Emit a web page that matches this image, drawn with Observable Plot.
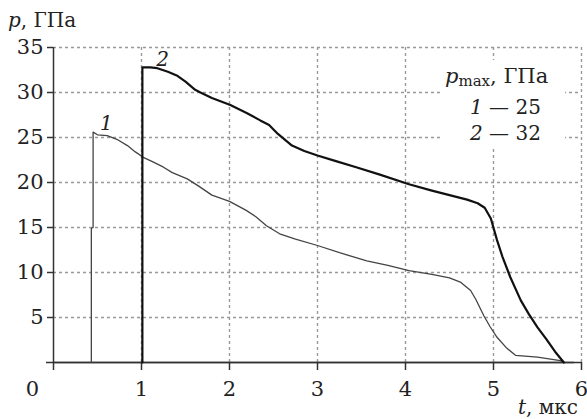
<!DOCTYPE html>
<html><head><meta charset="utf-8">
<script src="https://cdn.jsdelivr.net/npm/d3@7"></script>
<script src="https://cdn.jsdelivr.net/npm/@observablehq/plot@0.6"></script>
<style>
body{margin:0;background:#fff;}
#wrap{position:relative;width:587px;height:419px;font-family:"DejaVu Serif",serif;color:#222;}
.lab{position:absolute;font-size:20px;white-space:nowrap;line-height:1;color:#222;}
#legend{position:absolute;left:442px;top:60px;width:123px;height:87px;background:#fff;}
i{font-style:italic;}
sub{font-size:15px;vertical-align:-3px;}
</style></head><body><div id="wrap"></div>
<script>
// Curve 1 (p_max = 25 GPa)
const t1 = [0.43,0.43,0.45,0.45,0.5,0.61,0.72,0.84,0.93,1.02,1.13,1.25,1.35,1.52,1.65,1.8,2.0,2.19,2.3,2.42,2.57,2.75,3.0,3.25,3.56,3.8,4.04,4.3,4.5,4.63,4.74,4.8,4.89,4.96,5.04,5.15,5.25,5.5,5.76,5.8];
const p1 = [0,14.9,15.0,25.6,25.3,25.2,24.8,24.1,23.4,22.8,22.3,21.7,21.1,20.4,19.6,18.6,17.9,16.9,16.2,15.2,14.3,13.7,13.0,12.2,11.3,10.8,10.2,9.8,9.4,8.9,8.0,7.0,5.2,4.0,2.8,1.6,0.8,0.6,0.2,0];
// Curve 2 (p_max = 32 GPa)
const t2 = [1.01,1.01,1.1,1.18,1.3,1.4,1.5,1.61,1.67,1.8,2.01,2.2,2.35,2.45,2.55,2.71,2.85,3.0,3.2,3.44,3.7,4.04,4.3,4.5,4.7,4.82,4.9,4.97,5.04,5.1,5.19,5.31,5.4,5.5,5.6,5.7,5.8];
const p2 = [0,32.8,32.8,32.7,32.3,31.9,31.2,30.3,30.0,29.4,28.6,27.7,26.9,26.4,25.4,24.1,23.5,23.0,22.4,21.7,20.9,19.8,19.1,18.6,18.1,17.7,17.2,16.0,13.6,11.8,9.5,6.9,5.4,3.9,2.6,1.2,0];
const seriesNames = ["1","2"];
const pmax = [25,32];
const labelT = [0.6,1.24];
const labelP = [26.5,33.7];
const xTicks = [0,1,2,3,4,5,6];
const yTicks = [5,10,15,20,25,30,35];

const FONT = '"DejaVu Serif",serif';
const rows1 = t1.map((t,i)=>({t, p:p1[i]}));
const rows2 = t2.map((t,i)=>({t, p:p2[i]}));
const labels = seriesNames.map((s,i)=>({s, t:labelT[i], p:labelP[i]}));
const grid = {stroke:"#999", strokeOpacity:1, strokeWidth:1.4, strokeDasharray:"3,3"};

const plot = Plot.plot({
  width:587, height:419,
  marginLeft:53, marginRight:6, marginTop:47, marginBottom:57,
  x:{domain:[0,6]}, y:{domain:[0,35]},
  style:{fontFamily:FONT, fontSize:"21px", color:"#222", overflow:"visible"},
  marks:[
    Plot.gridX({ticks:xTicks.slice(1), ...grid}),
    Plot.gridY({ticks:yTicks, ...grid}),
    Plot.ruleY([0], {stroke:"#333", strokeWidth:1.5, dx:-7}),
    Plot.ruleY([0], {stroke:"#333", strokeWidth:1.5}),
    Plot.ruleX([0], {stroke:"#333", strokeWidth:1.5}),
    Plot.axisX({ticks:xTicks, tickSize:8, tickPadding:11, tickFormat:d=> d===0 ? "" : String(d), stroke:"#333", strokeWidth:1.5, label:null, fontSize:21, fontFamily:FONT}),
    Plot.axisY({ticks:yTicks, tickSize:6, tickPadding:4, stroke:"#333", strokeWidth:1.5, label:null, fontSize:21, fontFamily:FONT}),
    Plot.text([xTicks[0]], {x:d=>d, y:d=>d, text:d=>String(d), dx:-21, dy:27, fontSize:21, fill:"#222", fontFamily:FONT}),
    Plot.line(rows1, {x:"t", y:"p", stroke:"#444", strokeWidth:1.3}),
    Plot.line(rows2, {x:"t", y:"p", stroke:"#111", strokeWidth:2.2}),
    Plot.text(labels, {x:"t", y:"p", text:"s", fontStyle:"italic", fontSize:20, fill:"#222", fontFamily:FONT})
  ]
});
const wrap = document.getElementById("wrap");
wrap.appendChild(plot);
plot.style.position = "absolute"; plot.style.left = "0"; plot.style.top = "0";

function addLab(html, left, top){
  const d = document.createElement("div");
  d.className = "lab"; d.innerHTML = html;
  d.style.left = left+"px"; d.style.top = top+"px";
  wrap.appendChild(d);
  return d;
}
const lg = document.createElement("div"); lg.id = "legend"; wrap.appendChild(lg);
addLab("<i>p</i>, ГПа", 8, 10);
addLab("<i>t</i>, мкс", 518, 397);
const head = addLab("<i>p</i><sub>max</sub>, ГПа", 445, 66);
head.style.fontSize = "21px";
seriesNames.forEach((s,i)=>{
  addLab(`<i>${s}</i> — ${pmax[i]}`, 470, 97 + i*26);
});
</script>
</body></html>
